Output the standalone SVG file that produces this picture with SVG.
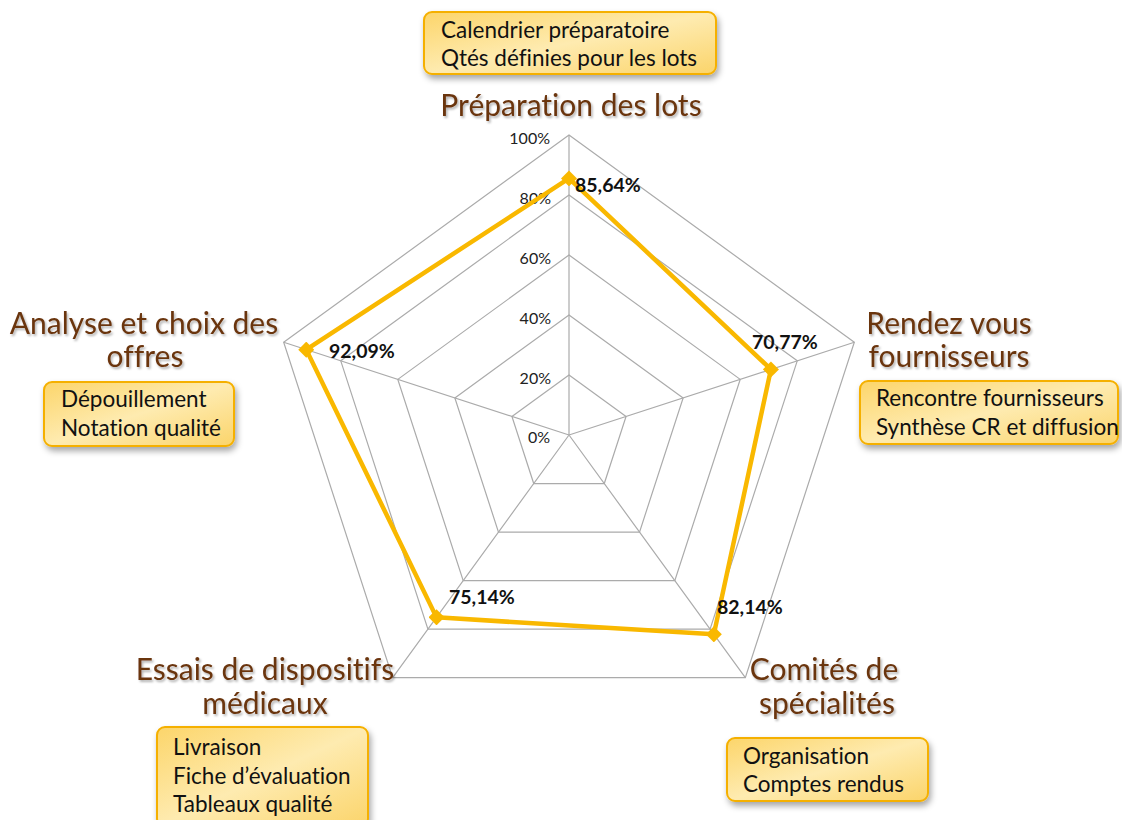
<svg xmlns="http://www.w3.org/2000/svg" width="1122" height="820" viewBox="0 0 1122 820">
<defs>
<linearGradient id="boxg" x1="0" y1="0" x2="1" y2="1">
<stop offset="0" stop-color="#FCD56A"/>
<stop offset="0.5" stop-color="#FEEBB0"/>
<stop offset="1" stop-color="#FBD46A"/>
</linearGradient>
<filter id="bshadow" x="-10%" y="-20%" width="125%" height="150%">
<feDropShadow dx="2" dy="4" stdDeviation="3" flood-color="#000" flood-opacity="0.35"/>
</filter>
<filter id="tshadow" x="-5%" y="-20%" width="110%" height="150%">
<feDropShadow dx="1.5" dy="2" stdDeviation="1.2" flood-color="#000" flood-opacity="0.3"/>
</filter>
<marker id="dia" viewBox="-8 -8 16 16" markerWidth="16" markerHeight="16" markerUnits="userSpaceOnUse" refX="0" refY="0">
<polygon points="0,-8 8,0 0,8 -8,0" fill="#F9B800"/>
</marker>
</defs>
<style>
text{font-variant-ligatures:none}
.grid{fill:none;stroke:#ababab;stroke-width:1.2}
.box{fill:url(#boxg);stroke:#F5B000;stroke-width:2;filter:url(#bshadow)}
.bt{font-family:Lato,"Open Sans",sans-serif;font-size:22.5px;fill:#111}
.cat{font-family:Lato,"Open Sans",sans-serif;font-size:30px;fill:#6B3511;filter:url(#tshadow)}
.ax{font-family:Lato,"Open Sans",sans-serif;font-size:16px;fill:#222;text-anchor:end}
.val{font-family:Lato,"Open Sans",sans-serif;font-size:19.5px;font-weight:bold;fill:#111}
</style>
<rect width="1122" height="820" fill="#fff"/>
<g id="grid">
<polygon class="grid" points="569,375 626.06,416.46 604.27,483.54 533.73,483.54 511.94,416.46"/>
<polygon class="grid" points="569,315 683.13,397.92 639.53,532.08 498.47,532.08 454.87,397.92"/>
<polygon class="grid" points="569,255 740.19,379.38 674.80,580.62 463.20,580.62 397.81,379.38"/>
<polygon class="grid" points="569,195 797.25,360.84 710.07,629.16 427.93,629.16 340.75,360.84"/>
<polygon class="grid" points="569,135 854.32,342.30 745.34,677.70 392.66,677.70 283.68,342.30"/>
<path class="grid" d="M569,435L569,135M569,435L854.32,342.30M569,435L745.34,677.70M569,435L392.66,677.70M569,435L283.68,342.30"/>
</g>
<g id="axis-labels">
<text class="ax" x="550" y="144">100%</text>
<text class="ax" x="551" y="204">80%</text>
<text class="ax" x="551" y="264">60%</text>
<text class="ax" x="551" y="324">40%</text>
<text class="ax" x="551" y="384">20%</text>
<text class="ax" x="550" y="443">0%</text>
</g>
<g id="series">
<polygon points="569,178.4 770.92,369.39 713.84,634.36 436.50,617.37 306.25,349.63" fill="none" stroke="#F9B800" stroke-width="4.5" stroke-linejoin="round" marker-start="url(#dia)" marker-mid="url(#dia)"/>
</g>
<g id="values">
<text class="val" x="575" y="192">85,64%</text>
<text class="val" x="752" y="349">70,77%</text>
<text class="val" x="717" y="614">82,14%</text>
<text class="val" x="449" y="604">75,14%</text>
<text class="val" x="329" y="358">92,09%</text>
</g>
<g id="node-preparation">
<rect class="box" x="424" y="12" width="292" height="62" rx="8"/>
<text class="bt" x="441" y="38">Calendrier préparatoire</text>
<text class="bt" x="441" y="66">Qtés définies pour les lots</text>
<text class="cat" x="571" y="116" text-anchor="middle">Préparation des lots</text>
</g>
<g id="node-rendez-vous">
<text class="cat" x="949" y="334" text-anchor="middle">Rendez vous</text>
<text class="cat" x="949" y="367" text-anchor="middle">fournisseurs</text>
<rect class="box" x="860" y="381" width="258" height="63" rx="8"/>
<text class="bt" x="876" y="406">Rencontre fournisseurs</text>
<text class="bt" x="876" y="435">Synthèse CR et diffusion</text>
</g>
<g id="node-comites">
<text class="cat" x="824" y="680" text-anchor="middle">Comités de</text>
<text class="cat" x="827" y="714" text-anchor="middle">spécialités</text>
<rect class="box" x="727" y="738" width="201" height="63" rx="8"/>
<text class="bt" x="743" y="764">Organisation</text>
<text class="bt" x="743" y="792">Comptes rendus</text>
</g>
<g id="node-essais">
<text class="cat" x="265" y="680" text-anchor="middle">Essais de dispositifs</text>
<text class="cat" x="265" y="714" text-anchor="middle">médicaux</text>
<rect class="box" x="157" y="727" width="211" height="100" rx="8"/>
<text class="bt" x="173" y="755">Livraison</text>
<text class="bt" x="173" y="784">Fiche d’évaluation</text>
<text class="bt" x="173" y="812">Tableaux qualité</text>
</g>
<g id="node-analyse">
<text class="cat" x="144" y="334" text-anchor="middle">Analyse et choix des</text>
<text class="cat" x="145" y="367" text-anchor="middle">offres</text>
<rect class="box" x="44" y="382" width="190" height="64" rx="8"/>
<text class="bt" x="61" y="407">Dépouillement</text>
<text class="bt" x="61" y="436">Notation qualité</text>
</g>
</svg>
